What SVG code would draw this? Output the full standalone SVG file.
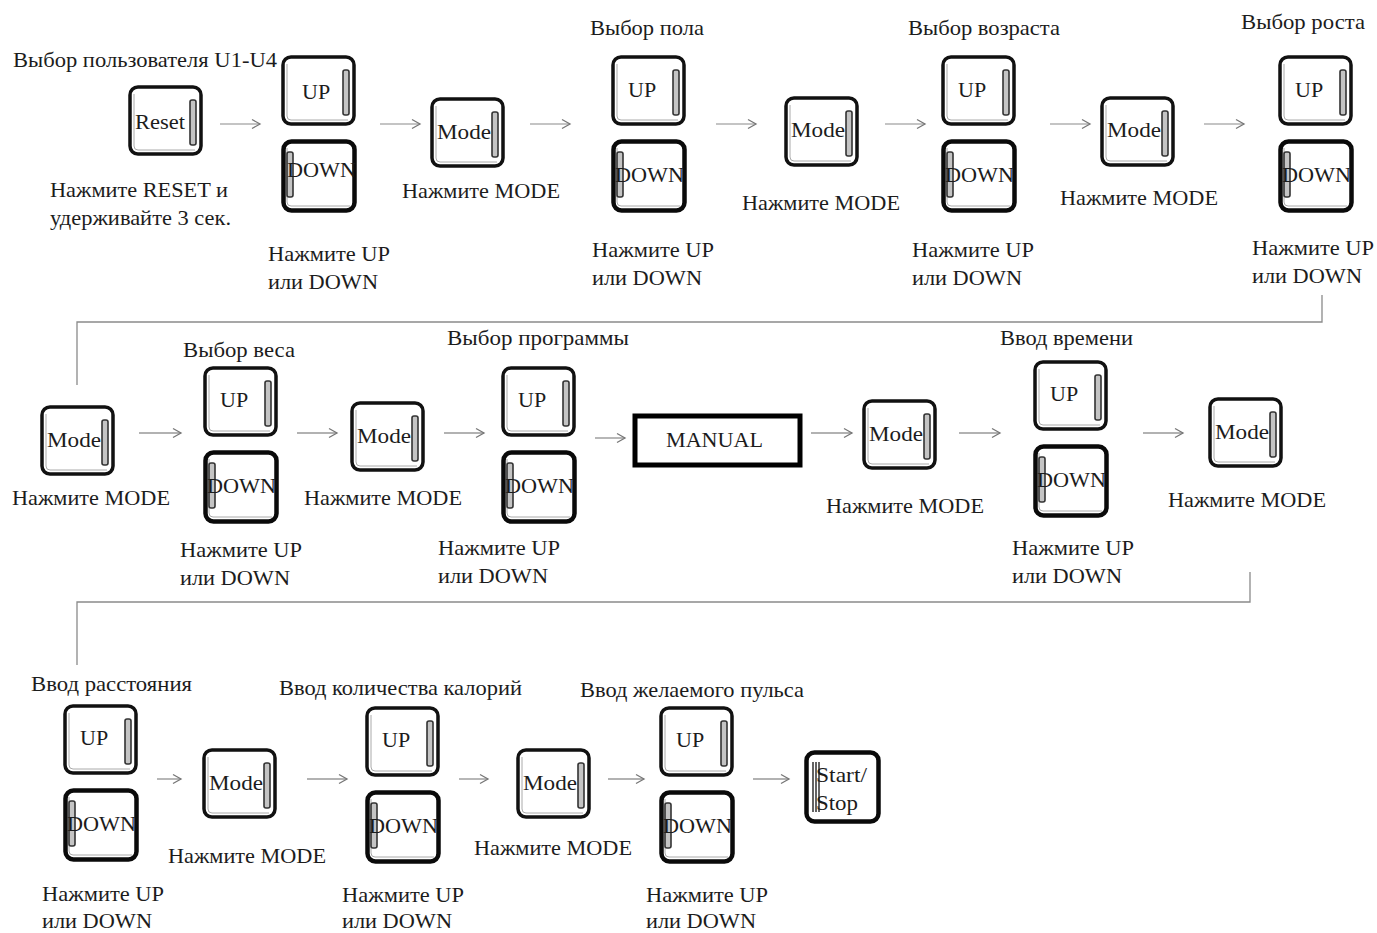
<svg xmlns="http://www.w3.org/2000/svg" width="1377" height="933" viewBox="0 0 1377 933">
<style>
text{font-family:"Liberation Serif","DejaVu Serif",serif;font-size:21px;fill:#1c1c1c}
.b{font-size:22px}
.o{fill:#fff;stroke:#111;stroke-width:3.5}
.d{fill:#fff;stroke:#0a0a0a;stroke-width:4.5}
.i{fill:none;stroke:#aaa;stroke-width:1}
.s{fill:#c4c4c4;stroke:#333;stroke-width:1.6}
.c{fill:none;stroke:#8a8a8a;stroke-width:1.3}
.a{fill:none;stroke:#999;stroke-width:1.4;marker-end:url(#h)}
.p{stroke:#c4c4c4;stroke-width:2}
</style>
<defs>
<marker id="h" markerUnits="userSpaceOnUse" markerWidth="12" markerHeight="12" refX="10" refY="6" orient="auto"><path d="M2 1.5L10 6L2 10.5" fill="none" stroke="#777" stroke-width="1.3"/></marker>
<g id="r"><rect class="o" x="1" y="1" width="71" height="67" rx="8"/><path class="i" d="M5 8V60Q5 64 9 64H66"/><rect class="s" x="61" y="14" width="6" height="45" rx="2"/></g>
<g id="l"><rect class="d" x="1.5" y="1.5" width="71" height="69" rx="8"/><path class="i" d="M5 8V62Q5 66 9 66H68"/><rect class="s" x="5" y="12" width="6" height="45" rx="2"/></g>
<g id="t"><rect class="d" x="1.5" y="1.5" width="72" height="69" rx="8"/><path d="M8 11V61M11 11V61M14 11V61" fill="none" stroke="#222" stroke-width="1.4"/></g>
</defs>
<g id="connectors">
<path class="c" d="M1322 295V322H77V385"/>
<path class="c" d="M1250 572V602H77V665"/>
<path class="a p" d="M220 124H260"/><path class="a p" d="M380 124H420"/><path class="a p" d="M530 124H570"/><path class="a p" d="M716 124H756"/><path class="a p" d="M885 124H925"/><path class="a p" d="M1050 124H1090"/><path class="a p" d="M1204 124H1244"/>
<path class="a" d="M139 433H181"/><path class="a" d="M297 433H337"/><path class="a" d="M444 433H484"/><path class="a" d="M595 438H625"/><path class="a" d="M811 433H852"/><path class="a" d="M959 433H1000"/><path class="a" d="M1143 433H1183"/>
<path class="a" d="M157 779H181"/><path class="a" d="M307 779H347"/><path class="a" d="M459 779H488"/><path class="a" d="M608 779H644"/><path class="a" d="M753 779H789"/>
</g>
<g id="reset" transform="translate(129 86)"><use href="#r"/><text class="b" x="6" y="43" textLength="50" lengthAdjust="spacingAndGlyphs">Reset</text></g>
<g id="up1" transform="translate(282 56)"><use href="#r"/><text class="b" x="20" y="43">UP</text></g>
<g id="down1" transform="translate(282 140)"><use href="#l"/><text class="b" x="5" y="37" textLength="69" lengthAdjust="spacingAndGlyphs">DOWN</text></g>
<g id="mode1" transform="translate(431 98)"><use href="#r"/><text class="b" x="6" y="41" textLength="54" lengthAdjust="spacingAndGlyphs">Mode</text></g>
<g id="up2" transform="translate(612 56)"><use href="#r"/><text class="b" x="16" y="41">UP</text></g>
<g id="down2" transform="translate(612 140)"><use href="#l"/><text class="b" x="3" y="42" textLength="69" lengthAdjust="spacingAndGlyphs">DOWN</text></g>
<g id="mode2" transform="translate(785 97)"><use href="#r"/><text class="b" x="6" y="40" textLength="54" lengthAdjust="spacingAndGlyphs">Mode</text></g>
<g id="up3" transform="translate(942 56)"><use href="#r"/><text class="b" x="16" y="41">UP</text></g>
<g id="down3" transform="translate(942 140)"><use href="#l"/><text class="b" x="3" y="42" textLength="69" lengthAdjust="spacingAndGlyphs">DOWN</text></g>
<g id="mode3" transform="translate(1101 97)"><use href="#r"/><text class="b" x="6" y="40" textLength="54" lengthAdjust="spacingAndGlyphs">Mode</text></g>
<g id="up4" transform="translate(1279 56)"><use href="#r"/><text class="b" x="16" y="41">UP</text></g>
<g id="down4" transform="translate(1279 140)"><use href="#l"/><text class="b" x="3" y="42" textLength="69" lengthAdjust="spacingAndGlyphs">DOWN</text></g>
<g id="mode4" transform="translate(41 406)"><use href="#r"/><text class="b" x="6" y="41" textLength="54" lengthAdjust="spacingAndGlyphs">Mode</text></g>
<g id="up5" transform="translate(204 367)"><use href="#r"/><text class="b" x="16" y="40">UP</text></g>
<g id="down5" transform="translate(204 451)"><use href="#l"/><text class="b" x="3" y="42" textLength="69" lengthAdjust="spacingAndGlyphs">DOWN</text></g>
<g id="mode5" transform="translate(351 402)"><use href="#r"/><text class="b" x="6" y="41" textLength="54" lengthAdjust="spacingAndGlyphs">Mode</text></g>
<g id="up6" transform="translate(502 367)"><use href="#r"/><text class="b" x="16" y="40">UP</text></g>
<g id="down6" transform="translate(502 451)"><use href="#l"/><text class="b" x="3" y="42" textLength="69" lengthAdjust="spacingAndGlyphs">DOWN</text></g>
<g id="manual"><rect x="635" y="416" width="165" height="49" fill="#fff" stroke="#000" stroke-width="5"/><text x="666" y="447" textLength="97" lengthAdjust="spacingAndGlyphs">MANUAL</text></g>
<g id="mode6" transform="translate(863 400)"><use href="#r"/><text class="b" x="6" y="41" textLength="54" lengthAdjust="spacingAndGlyphs">Mode</text></g>
<g id="up7" transform="translate(1034 361)"><use href="#r"/><text class="b" x="16" y="40">UP</text></g>
<g id="down7" transform="translate(1034 445)"><use href="#l"/><text class="b" x="3" y="42" textLength="69" lengthAdjust="spacingAndGlyphs">DOWN</text></g>
<g id="mode7" transform="translate(1209 398)"><use href="#r"/><text class="b" x="6" y="41" textLength="54" lengthAdjust="spacingAndGlyphs">Mode</text></g>
<g id="up8" transform="translate(64 705)"><use href="#r"/><text class="b" x="16" y="40">UP</text></g>
<g id="down8" transform="translate(64 789)"><use href="#l"/><text class="b" x="3" y="42" textLength="69" lengthAdjust="spacingAndGlyphs">DOWN</text></g>
<g id="mode8" transform="translate(203 749)"><use href="#r"/><text class="b" x="6" y="41" textLength="54" lengthAdjust="spacingAndGlyphs">Mode</text></g>
<g id="up9" transform="translate(366 707)"><use href="#r"/><text class="b" x="16" y="40">UP</text></g>
<g id="down9" transform="translate(366 791)"><use href="#l"/><text class="b" x="3" y="42" textLength="69" lengthAdjust="spacingAndGlyphs">DOWN</text></g>
<g id="mode9" transform="translate(517 749)"><use href="#r"/><text class="b" x="6" y="41" textLength="54" lengthAdjust="spacingAndGlyphs">Mode</text></g>
<g id="up10" transform="translate(660 707)"><use href="#r"/><text class="b" x="16" y="40">UP</text></g>
<g id="down10" transform="translate(660 791)"><use href="#l"/><text class="b" x="3" y="42" textLength="69" lengthAdjust="spacingAndGlyphs">DOWN</text></g>
<g id="start" transform="translate(805 751)"><use href="#t"/><text class="b" x="11" y="31" textLength="51" lengthAdjust="spacingAndGlyphs">Start/</text><text class="b" x="11" y="59" textLength="42" lengthAdjust="spacingAndGlyphs">Stop</text></g>
<g id="labels">
<text x="13" y="67" textLength="264" lengthAdjust="spacingAndGlyphs">Выбор пользователя U1-U4</text>
<text x="590" y="35" textLength="114" lengthAdjust="spacingAndGlyphs">Выбор пола</text>
<text x="908" y="35" textLength="152" lengthAdjust="spacingAndGlyphs">Выбор возраста</text>
<text x="1241" y="29" textLength="124" lengthAdjust="spacingAndGlyphs">Выбор роста</text>
<text x="50" y="197" textLength="178" lengthAdjust="spacingAndGlyphs">Нажмите RESET и</text>
<text x="50" y="225" textLength="181" lengthAdjust="spacingAndGlyphs">удерживайте 3 сек.</text>
<text x="268" y="261" textLength="122" lengthAdjust="spacingAndGlyphs">Нажмите UP</text>
<text x="268" y="289" textLength="110" lengthAdjust="spacingAndGlyphs">или DOWN</text>
<text x="402" y="198" textLength="158" lengthAdjust="spacingAndGlyphs">Нажмите MODE</text>
<text x="592" y="257" textLength="122" lengthAdjust="spacingAndGlyphs">Нажмите UP</text>
<text x="592" y="285" textLength="110" lengthAdjust="spacingAndGlyphs">или DOWN</text>
<text x="742" y="210" textLength="158" lengthAdjust="spacingAndGlyphs">Нажмите MODE</text>
<text x="912" y="257" textLength="122" lengthAdjust="spacingAndGlyphs">Нажмите UP</text>
<text x="912" y="285" textLength="110" lengthAdjust="spacingAndGlyphs">или DOWN</text>
<text x="1060" y="205" textLength="158" lengthAdjust="spacingAndGlyphs">Нажмите MODE</text>
<text x="1252" y="255" textLength="122" lengthAdjust="spacingAndGlyphs">Нажмите UP</text>
<text x="1252" y="283" textLength="110" lengthAdjust="spacingAndGlyphs">или DOWN</text>
<text x="183" y="357" textLength="112" lengthAdjust="spacingAndGlyphs">Выбор веса</text>
<text x="447" y="345" textLength="182" lengthAdjust="spacingAndGlyphs">Выбор программы</text>
<text x="1000" y="345" textLength="133" lengthAdjust="spacingAndGlyphs">Ввод времени</text>
<text x="12" y="505" textLength="158" lengthAdjust="spacingAndGlyphs">Нажмите MODE</text>
<text x="180" y="557" textLength="122" lengthAdjust="spacingAndGlyphs">Нажмите UP</text>
<text x="180" y="585" textLength="110" lengthAdjust="spacingAndGlyphs">или DOWN</text>
<text x="304" y="505" textLength="158" lengthAdjust="spacingAndGlyphs">Нажмите MODE</text>
<text x="438" y="555" textLength="122" lengthAdjust="spacingAndGlyphs">Нажмите UP</text>
<text x="438" y="583" textLength="110" lengthAdjust="spacingAndGlyphs">или DOWN</text>
<text x="826" y="513" textLength="158" lengthAdjust="spacingAndGlyphs">Нажмите MODE</text>
<text x="1012" y="555" textLength="122" lengthAdjust="spacingAndGlyphs">Нажмите UP</text>
<text x="1012" y="583" textLength="110" lengthAdjust="spacingAndGlyphs">или DOWN</text>
<text x="1168" y="507" textLength="158" lengthAdjust="spacingAndGlyphs">Нажмите MODE</text>
<text x="31" y="691" textLength="161" lengthAdjust="spacingAndGlyphs">Ввод расстояния</text>
<text x="279" y="695" textLength="243" lengthAdjust="spacingAndGlyphs">Ввод количества калорий</text>
<text x="580" y="697" textLength="224" lengthAdjust="spacingAndGlyphs">Ввод желаемого пульса</text>
<text x="42" y="901" textLength="122" lengthAdjust="spacingAndGlyphs">Нажмите UP</text>
<text x="42" y="928" textLength="110" lengthAdjust="spacingAndGlyphs">или DOWN</text>
<text x="168" y="863" textLength="158" lengthAdjust="spacingAndGlyphs">Нажмите MODE</text>
<text x="342" y="902" textLength="122" lengthAdjust="spacingAndGlyphs">Нажмите UP</text>
<text x="342" y="928" textLength="110" lengthAdjust="spacingAndGlyphs">или DOWN</text>
<text x="474" y="855" textLength="158" lengthAdjust="spacingAndGlyphs">Нажмите MODE</text>
<text x="646" y="902" textLength="122" lengthAdjust="spacingAndGlyphs">Нажмите UP</text>
<text x="646" y="928" textLength="110" lengthAdjust="spacingAndGlyphs">или DOWN</text>
</g>
</svg>
